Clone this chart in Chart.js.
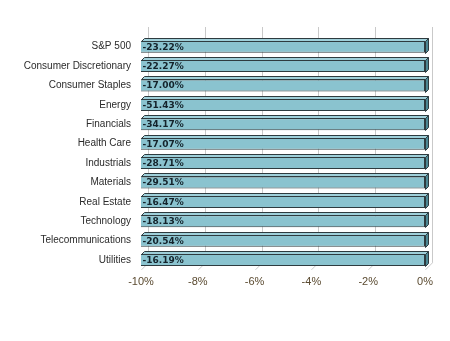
<!DOCTYPE html>
<html>
<head>
<meta charset="utf-8">
<script src="https://cdn.jsdelivr.net/npm/chart.js@4/dist/chart.umd.min.js"></script>
<style>
  html, body { margin: 0; padding: 0; background: #fff; }
  #wrap { width: 450px; height: 341px; }
</style>
</head>
<body>
<div id="wrap"><canvas id="chart" width="450" height="341"></canvas></div>
<script>
// ==============================
// DATA
// ==============================
const sectors = [
    "S&P 500", "Consumer Discretionary", "Consumer Staples", "Energy",
    "Financials", "Health Care", "Industrials", "Materials",
    "Real Estate", "Technology", "Telecommunications", "Utilities"
];
const returns = [-23.22, -22.27, -17.00, -51.43, -34.17, -17.07, -28.71, -29.51, -16.47, -18.13, -20.54, -16.19];
const tickValues = [-10, -8, -6, -4, -2, 0];

const DEPTH = 7;      // back wall offset
const BAR_DEPTH = 3;  // bar thickness

// ==============================
// 3D-ish WALL + GRID
// ==============================
const wallPlugin = {
    id: "wall",
    beforeDatasetsDraw(chart) {
        const { ctx, chartArea, scales } = chart;
        ctx.save();
        ctx.strokeStyle = "#c9c9c9";
        ctx.lineWidth = 1;
        tickValues.forEach(v => {
            const x = Math.round(scales.x.getPixelForValue(v)) + 0.5;
            ctx.beginPath();
            ctx.moveTo(x + DEPTH, chartArea.top - DEPTH - 3);
            ctx.lineTo(x + DEPTH, chartArea.bottom - DEPTH);
            ctx.lineTo(x, chartArea.bottom);
            ctx.stroke();
        });
        ctx.restore();
    },
    afterDatasetsDraw(chart) {
        const { ctx, chartArea } = chart;
        const meta = chart.getDatasetMeta(0);
        ctx.save();
        ctx.lineWidth = 1;
        ctx.strokeStyle = "#2e3b3f";
        meta.data.forEach((bar, i) => {
            const left = Math.max(Math.min(bar.x, bar.base), chartArea.left) + 0.5;
            const right = Math.min(Math.max(bar.x, bar.base), chartArea.right) + 0.5;
            const top = Math.round(bar.y - bar.height / 2) + 0.5;
            const bottom = Math.round(bar.y + bar.height / 2) + 0.5;
            const d = BAR_DEPTH;
            // top face
            ctx.fillStyle = "#9fd0da";
            ctx.beginPath();
            ctx.moveTo(left, top);
            ctx.lineTo(left + d, top - d);
            ctx.lineTo(right + d, top - d);
            ctx.lineTo(right, top);
            ctx.closePath();
            ctx.fill();
            ctx.stroke();
            // right side
            ctx.fillStyle = "#4d8793";
            ctx.beginPath();
            ctx.moveTo(right, top);
            ctx.lineTo(right + d, top - d);
            ctx.lineTo(right + d, bottom - d);
            ctx.lineTo(right, bottom);
            ctx.closePath();
            ctx.fill();
            ctx.stroke();
            // value label
            ctx.fillStyle = "#14232b";
            ctx.font = "bold 9px 'DejaVu Sans', Verdana, sans-serif";
            ctx.textAlign = "left";
            ctx.textBaseline = "middle";
            ctx.fillText(returns[i].toFixed(2) + "%", left + 1, bar.y + 0.5);
        });
        ctx.restore();
    }
};

// ==============================
// CHART
// ==============================
new Chart(document.getElementById("chart"), {
    type: "bar",
    data: {
        labels: sectors,
        datasets: [{
            data: returns,
            backgroundColor: "#8ac3cf",
            borderColor: "#2e3b3f",
            borderWidth: 1,
            borderSkipped: false,
            barPercentage: 0.62,
            categoryPercentage: 1.0
        }]
    },
    options: {
        indexAxis: "y",
        responsive: false,
        animation: false,
        devicePixelRatio: 1,
        layout: { padding: { left: 0, right: 25, top: 37, bottom: 46 } },
        plugins: {
            legend: { display: false },
            tooltip: { enabled: false }
        },
        scales: {
            x: {
                min: -10,
                max: 0,
                afterBuildTicks(scale) {
                    scale.ticks = tickValues.map(v => ({ value: v }));
                },
                grid: { display: false, drawTicks: false },
                border: { display: false },
                ticks: {
                    padding: 6,
                    color: "#5a4a30",
                    font: { family: "'Liberation Sans', Arial, sans-serif", size: 11 },
                    callback: v => v + "%"
                }
            },
            y: {
                afterFit(scale) { scale.width = 141; },
                grid: { display: false, drawTicks: false },
                border: { display: false },
                ticks: {
                    padding: 10,
                    color: "#2b2b2b",
                    font: { family: "'Liberation Sans', Arial, sans-serif", size: 10 }
                }
            }
        }
    },
    plugins: [wallPlugin]
});
</script>
</body>
</html>
